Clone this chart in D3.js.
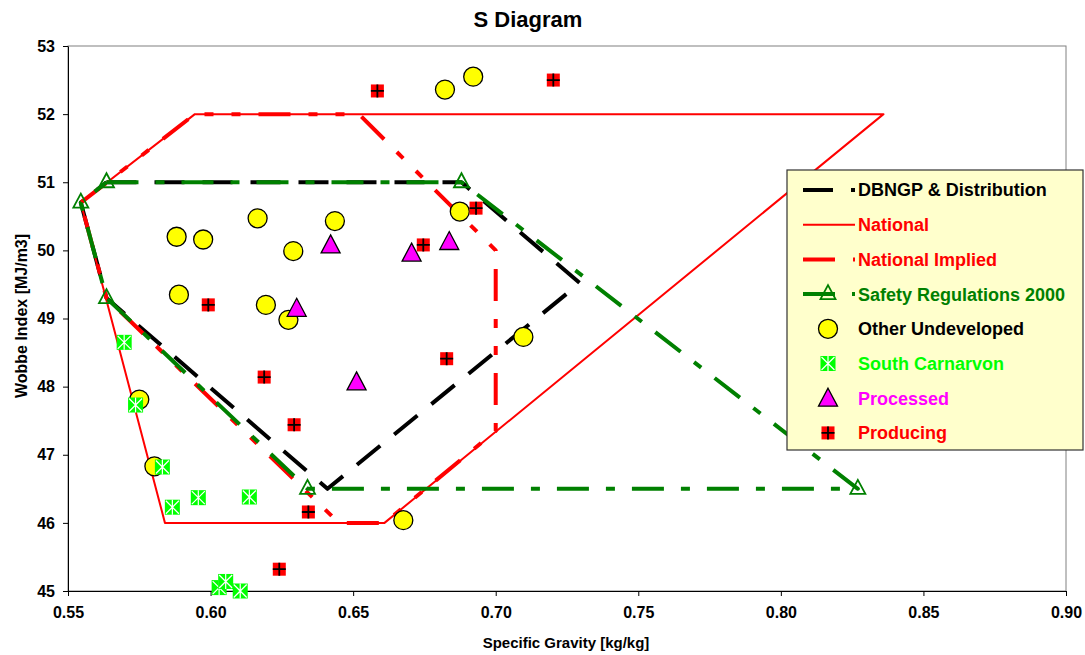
<!DOCTYPE html>
<html>
<head>
<meta charset="utf-8">
<script src="https://cdn.jsdelivr.net/npm/d3@7"></script>
<style>
  body { margin: 0; background: #fff; }
  svg { font-family: "Liberation Sans", Arial, sans-serif; font-weight: bold; }
</style>
</head>
<body>
<div id="chart"></div>
<script>
'use strict';

const W = 1085, H = 655;

// envelopes (specific gravity, wobbe index)
const dbngpSG = [0.5635, 0.688, 0.7295, 0.641, 0.5635, 0.5545, 0.5635];
const dbngpWI = [51.0, 51.0, 49.52, 46.5, 49.3, 50.7, 51.0];

const natSG = [0.5545, 0.5945, 0.836, 0.661, 0.584, 0.5545];
const natWI = [50.7, 52.0, 52.0, 46.0, 46.0, 50.7];

const impSG = [0.5545, 0.5945, 0.652, 0.700, 0.700, 0.661, 0.645, 0.5635, 0.5545];
const impWI = [50.7, 52.0, 52.0, 50.0, 47.35, 46.0, 46.0, 49.3, 50.7];

const safSG = [0.5635, 0.688, 0.827, 0.634, 0.5635, 0.5545, 0.5635];
const safWI = [51.0, 51.0, 46.5, 46.5, 49.3, 50.7, 51.0];

// gas fields
const otherSG = [0.6822, 0.6921, 0.6874, 0.6165, 0.6436, 0.5881, 0.5974, 0.6290, 0.5889, 0.6194, 0.6273, 0.7097, 0.5750, 0.5803, 0.6676];
const otherWI = [52.36, 52.55, 50.57, 50.47, 50.43, 50.20, 50.16, 49.99, 49.35, 49.20, 48.98, 48.73, 47.81, 46.83, 46.04];

const southSG = [0.5697, 0.5737, 0.5831, 0.5866, 0.5957, 0.6136, 0.6030, 0.6053, 0.6104];
const southWI = [48.65, 47.73, 46.82, 46.23, 46.37, 46.38, 45.05, 45.14, 45.00];

const procSG = [0.6421, 0.6705, 0.6837, 0.6302, 0.6512];
const procWI = [50.08, 49.96, 50.13, 49.15, 48.07];

const prodSG = [0.6585, 0.7202, 0.6931, 0.6746, 0.5992, 0.6188, 0.6293, 0.6828, 0.6343, 0.6241];
const prodWI = [52.34, 52.50, 50.62, 50.08, 49.20, 48.14, 47.44, 48.41, 46.16, 45.32];

const xTicks = [0.55, 0.60, 0.65, 0.70, 0.75, 0.80, 0.85, 0.90];
const yTicks = [45, 46, 47, 48, 49, 50, 51, 52, 53];

const legendNames = ['DBNGP & Distribution', 'National', 'National Implied', 'Safety Regulations 2000',
  'Other Undeveloped', 'South Carnarvon', 'Processed', 'Producing'];
const legendColors = ['#000000', '#FF0000', '#FF0000', '#008000', '#000000', '#00FF00', '#FF00FF', '#FF0000'];

const RED = '#FF0000', GREEN = '#008000';

const svg = d3.select('#chart').append('svg')
  .attr('width', W)
  .attr('height', H);

const x = d3.scaleLinear().domain([0.55, 0.90]).range([68, 1066]);
const y = d3.scaleLinear().domain([45, 53]).range([591, 46]);

// plot frame
svg.append('rect')
  .attr('x', x(0.55)).attr('y', y(53))
  .attr('width', x(0.90) - x(0.55)).attr('height', y(45) - y(53))
  .attr('fill', '#fff')
  .attr('stroke', '#808080')
  .attr('stroke-width', 1);

// axes
const yAxis = svg.append('g')
  .attr('transform', 'translate(' + x(0.55) + ',0)')
  .call(d3.axisLeft(y).tickValues(yTicks).tickFormat(d3.format('d')).tickSize(5).tickSizeOuter(0).tickPadding(8));
const xAxis = svg.append('g')
  .attr('transform', 'translate(0,' + y(45) + ')')
  .call(d3.axisBottom(x).tickValues(xTicks).tickFormat(d3.format('.2f')).tickSize(5).tickSizeOuter(0).tickPadding(11));

[xAxis, yAxis].forEach(function (a) {
  a.selectAll('text').attr('font-size', 16).attr('font-weight', 'bold')
    .attr('font-family', '"Liberation Sans", Arial, sans-serif').attr('fill', '#000');
  a.selectAll('line').attr('stroke', '#000');
  a.select('.domain').attr('stroke', '#000');
});

// titles
svg.append('text')
  .attr('x', 528).attr('y', 27)
  .attr('text-anchor', 'middle')
  .attr('font-size', 22)
  .text('S Diagram');

svg.append('text')
  .attr('x', 566).attr('y', 648)
  .attr('text-anchor', 'middle')
  .attr('font-size', 15)
  .text('Specific Gravity [kg/kg]');

svg.append('text')
  .attr('transform', 'translate(27,316) rotate(-90)')
  .attr('text-anchor', 'middle')
  .attr('font-size', 16)
  .text('Wobbe Index [MJ/m3]');

// envelope lines
function zip(a, b) {
  return a.map(function (v, i) { return [v, b[i]]; });
}

const line = d3.line()
  .x(function (d) { return x(d[0]); })
  .y(function (d) { return y(d[1]); });

const lines = svg.append('g').attr('id', 'lines');

function drawLine(sg, wi, color, width, dash) {
  lines.append('path')
    .datum(zip(sg, wi))
    .attr('d', line)
    .attr('fill', 'none')
    .attr('stroke', color)
    .attr('stroke-width', width)
    .attr('stroke-dasharray', dash)
    .attr('stroke-linejoin', 'round');
}

drawLine(dbngpSG, dbngpWI, '#000', 4, '30,18');
drawLine(natSG, natWI, RED, 2, null);
drawLine(impSG, impWI, RED, 4, '32,18,9,18,9,18');
drawLine(safSG, safWI, GREEN, 4, '32,17,9,17');

// marker shapes
const triHollow = 'M0,-9L7.5,5L-7.5,5Z';
const triFill = 'M0,-10L9.5,8L-9.5,8Z';

function safetyMarker(g) {
  g.append('path').attr('d', triHollow)
    .attr('fill', 'none').attr('stroke', GREEN).attr('stroke-width', 1.8);
}
function otherMarker(g) {
  g.append('circle').attr('r', 9.5)
    .attr('fill', '#FFFF00').attr('stroke', '#000').attr('stroke-width', 1.3);
}
function southMarker(g) {
  const s = 7.5;
  g.append('rect').attr('x', -s).attr('y', -s).attr('width', 2 * s).attr('height', 2 * s)
    .attr('fill', '#00FF00');
  g.append('path')
    .attr('d', 'M' + (-s + 1) + ',' + (-s + 1) + 'L' + (s - 1) + ',' + (s - 1) +
      'M' + (s - 1) + ',' + (-s + 1) + 'L' + (-s + 1) + ',' + (s - 1) +
      'M0,' + (-s) + 'L0,' + s)
    .attr('stroke', '#fff').attr('stroke-width', 1.2).attr('fill', 'none');
}
function procMarker(g) {
  g.append('path').attr('d', triFill)
    .attr('fill', '#FF00FF').attr('stroke', '#000').attr('stroke-width', 1.3);
}
function prodMarker(g) {
  const s = 6.5;
  g.append('rect').attr('x', -s).attr('y', -s).attr('width', 2 * s).attr('height', 2 * s)
    .attr('fill', RED);
  g.append('path')
    .attr('d', 'M' + (-s) + ',0L' + s + ',0M0,' + (-s) + 'L0,' + s)
    .attr('stroke', '#000').attr('stroke-width', 1.8).attr('fill', 'none');
}

function drawPoints(sg, wi, marker, cls) {
  svg.append('g').attr('class', cls).selectAll('g')
      .data(zip(sg, wi))
    .enter().append('g')
      .attr('transform', function (d) { return 'translate(' + x(d[0]) + ',' + y(d[1]) + ')'; })
      .each(function () { marker(d3.select(this)); });
}

drawPoints(safSG.slice(0, -1), safWI.slice(0, -1), safetyMarker, 'safety');
drawPoints(otherSG, otherWI, otherMarker, 'other');
drawPoints(southSG, southWI, southMarker, 'south');
drawPoints(procSG, procWI, procMarker, 'processed');
drawPoints(prodSG, prodWI, prodMarker, 'producing');

// legend
const leg = svg.append('g').attr('id', 'legend');
leg.append('rect')
  .attr('x', 787).attr('y', 170).attr('width', 296).attr('height', 280)
  .attr('fill', '#FFFFCC').attr('stroke', '#333').attr('stroke-width', 1.2);

const legendLine = [
  { color: '#000', width: 4, dash: '30,18' },
  { color: RED, width: 2, dash: null },
  { color: RED, width: 4, dash: '32,18,9,18,9,18' },
  { color: GREEN, width: 4, dash: '32,17,9,17' }
];
const legendMarker = [null, null, null, safetyMarker, otherMarker, southMarker, procMarker, prodMarker];

legendNames.forEach(function (name, i) {
  const ly = 190 + i * 34.7;
  const item = leg.append('g').attr('transform', 'translate(0,' + ly + ')');
  if (legendLine[i]) {
    item.append('line')
      .attr('x1', 803).attr('x2', 855).attr('y1', 0).attr('y2', 0)
      .attr('stroke', legendLine[i].color)
      .attr('stroke-width', legendLine[i].width)
      .attr('stroke-dasharray', legendLine[i].dash);
  }
  if (legendMarker[i]) {
    const m = item.append('g').attr('transform', 'translate(828,0)');
    legendMarker[i](m);
  }
  item.append('text')
    .attr('x', 858).attr('y', 0).attr('dy', '0.36em')
    .attr('font-size', 18)
    .attr('fill', legendColors[i])
    .text(name);
});
</script>
</body>
</html>
